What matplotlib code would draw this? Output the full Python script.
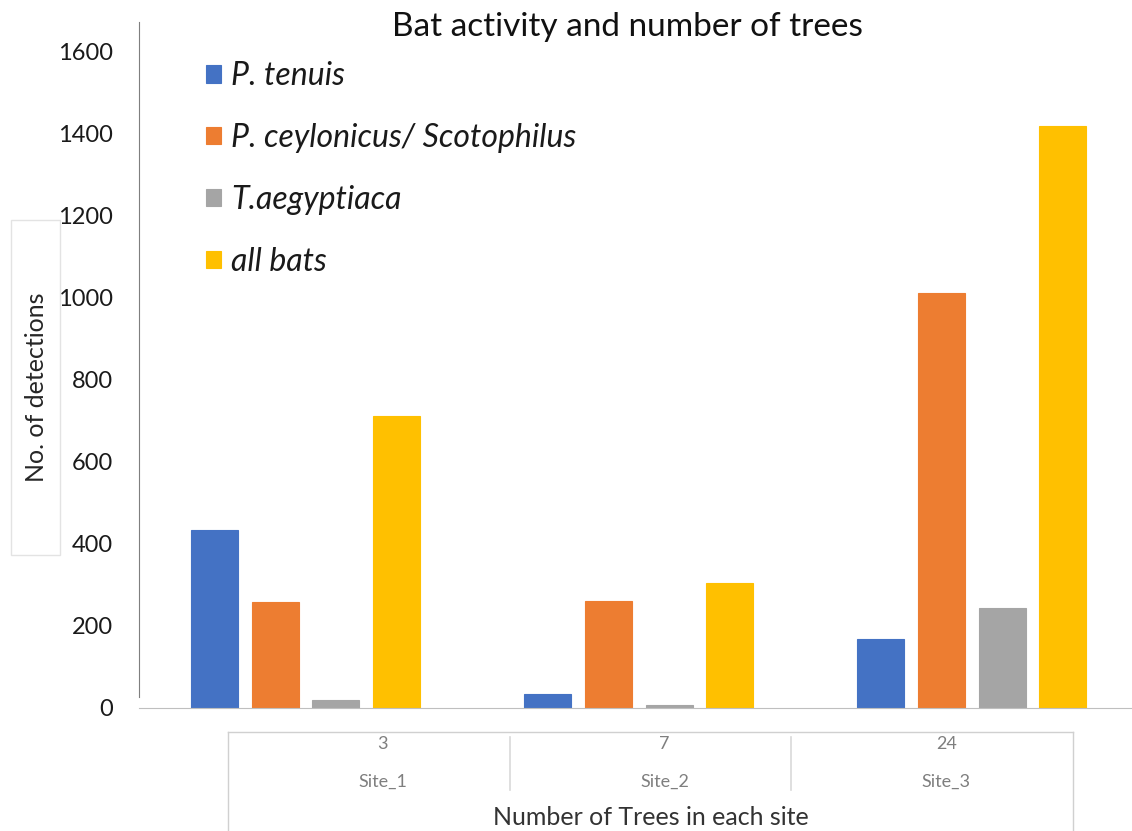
import numpy as np
import matplotlib.pyplot as plt
from matplotlib.patches import Rectangle

plt.rcParams['font.family'] = ['Lato', 'DejaVu Sans']

sites = ['Site_1', 'Site_2', 'Site_3']
trees = ['3', '7', '24']
series = ['P. tenuis', 'P. ceylonicus/ Scotophilus', 'T.aegyptiaca', 'all bats']
p_tenuis = [434, 34, 168]
p_ceylonicus = [258, 261, 1012]
t_aegyptiaca = [20, 7, 244]
all_bats = [712, 305, 1420]
colors = ['#4472C4', '#ED7D31', '#A5A5A5', '#FFC000']
yticks = [0, 200, 400, 600, 800, 1000, 1200, 1400, 1600]

W, H = 1132, 831
fig = plt.figure(figsize=(W / 100, H / 100), dpi=100)

def px(x0, y0, x1, y1):
    # pixel box (top-left origin) -> figure fraction rect
    return [x0 / W, 1 - y1 / H, (x1 - x0) / W, (y1 - y0) / H]

ax = fig.add_axes(px(139, 22, 1138.5, 708))

x = np.arange(len(sites))
step = 0.182
width = 0.141
values = [p_tenuis, p_ceylonicus, t_aegyptiaca, all_bats]
for i, (vals, name, c) in enumerate(zip(values, series, colors)):
    ax.bar(x + (i - 1.5) * step, vals, width, color=c, label=name,
           edgecolor=c, linewidth=0.8)

ax.set_xlim(-0.5, 2.5)
ax.set_ylim(0, 1673)
ax.set_yticks(yticks)
ax.set_yticklabels([str(v) for v in yticks], fontsize=17, color='#1a1a1a')
ax.tick_params(axis='y', length=0, pad=19)
ax.set_xticks([])
for s in ['top', 'right']:
    ax.spines[s].set_visible(False)
ax.spines['left'].set_color('#7f7f7f')
ax.spines['left'].set_bounds(27, 1673)
ax.spines['bottom'].set_color('#bfbfbf')

fig.text(627 / W, 1 - 27 / H, 'Bat activity and number of trees',
         ha='center', va='center', fontsize=24, color='#111111')

leg = ax.legend(loc='upper left', bbox_to_anchor=(190 / W, 1 - 45 / H),
                bbox_transform=fig.transFigure, frameon=False,
                prop={'style': 'italic', 'size': 23},
                handlelength=0.48, handleheight=0.48, handletextpad=0.3,
                labelspacing=1.0, borderpad=0)
for t in leg.get_texts():
    t.set_color('#1a1a1a')

# y label in its light frame
fig.patches.append(Rectangle((11 / W, 1 - 555 / H), 49 / W, 335 / H,
                             transform=fig.transFigure, fill=False,
                             edgecolor='#e3e3e3', linewidth=1))
fig.text(37 / W, 1 - 387 / H, 'No. of detections', rotation=90,
         ha='center', va='center', fontsize=18, color='#262626')

# category box under the plot
ax2 = fig.add_axes(px(228, 732, 1073, 840))
ax2.set_xlim(0, 3)
ax2.set_ylim(0, 1)
ax2.set_xticks([])
ax2.set_yticks([])
for s in ax2.spines.values():
    s.set_color('#d0d0d0')
    s.set_linewidth(1)
for i in range(len(sites)):
    ax2.text(i + 0.55, 0.89, trees[i], ha='center', va='center',
             fontsize=13, color='#7f7f7f')
    ax2.text(i + 0.55, 0.535, sites[i], ha='center', va='center',
             fontsize=13, color='#7f7f7f')
for b in [1, 2]:
    ax2.plot([b, b], [0.46, 0.955], color='#d9d9d9', linewidth=1.2)
ax2.text(1.5, 0.21, 'Number of Trees in each site', ha='center',
         va='center', fontsize=18, color='#333333')

fig.savefig('out.png', dpi=100)
